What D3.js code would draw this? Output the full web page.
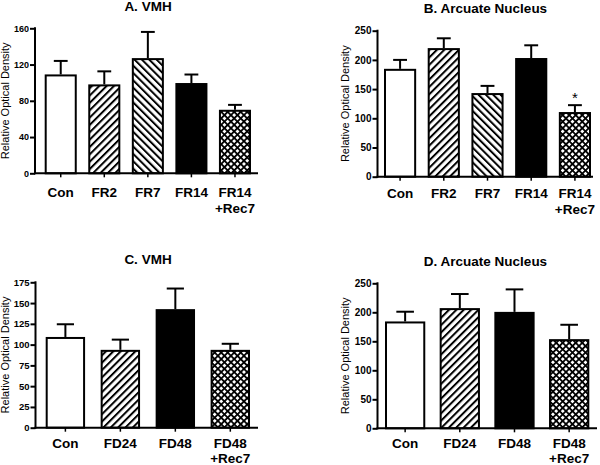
<!DOCTYPE html>
<html>
<head>
<meta charset="utf-8">
<script src="https://cdn.jsdelivr.net/npm/d3@7"></script>
<style>
  html, body { margin: 0; padding: 0; background: #fff; }
  svg { display: block; font-family: "Liberation Sans", Arial, sans-serif; }
</style>
</head>
<body>
<svg id="chart" width="600" height="465"></svg>
<script>
// ---- Data ----
const categoriesA = ["Con", "FR2", "FR7", "FR14", "FR14 +Rec7"];
const meansA = [108, 97, 126, 98.5, 69];
const errA = [124, 112.5, 156, 109, 75.5];
const ticksA = [0, 40, 80, 120, 160];

const categoriesB = ["Con", "FR2", "FR7", "FR14", "FR14 +Rec7"];
const meansB = [183, 218.5, 141.5, 201.5, 109];
const errB = [200, 237, 155.5, 225, 122.5];
const ticksB = [0, 50, 100, 150, 200, 250];
const markersB = ["", "", "", "", "*"];

const categoriesC = ["Con", "FD24", "FD48", "FD48 +Rec7"];
const meansC = [108, 92.5, 141.5, 92.5];
const errC = [124.5, 106, 167.5, 101];
const ticksC = [0, 25, 50, 75, 100, 125, 150, 175];

const categoriesD = ["Con", "FD24", "FD48", "FD48 +Rec7"];
const meansD = [182.5, 205.5, 199, 152];
const errD = [201, 231.5, 239.5, 178.5];
const ticksD = [0, 50, 100, 150, 200, 250];

const titles = ["A. VMH", "B. Arcuate Nucleus", "C. VMH", "D. Arcuate Nucleus"];
const yTitle = "Relative Optical Density";

// ---- Drawing ----
const svg = d3.select("#chart");
const defs = svg.append("defs");

function hatch(id, angle) {
  const p = defs.append("pattern").attr("id", id)
    .attr("patternUnits", "userSpaceOnUse")
    .attr("width", 5.2).attr("height", 5.2)
    .attr("patternTransform", `rotate(${angle})`);
  p.append("rect").attr("width", 5.2).attr("height", 5.2).attr("fill", "#fff");
  p.append("line").attr("x1", 1).attr("x2", 1).attr("y1", 0).attr("y2", 5.2)
    .attr("stroke", "#000").attr("stroke-width", 2);
}
hatch("fwd", 45);
hatch("back", -45);
(function () {
  const s = 4.6, w = 1.8;
  const p = defs.append("pattern").attr("id", "cross")
    .attr("patternUnits", "userSpaceOnUse")
    .attr("width", s).attr("height", s)
    .attr("patternTransform", "rotate(45)");
  p.append("rect").attr("width", s).attr("height", s).attr("fill", "#000");
  p.append("rect").attr("x", w).attr("y", w).attr("width", s - w).attr("height", s - w).attr("fill", "#fff");
})();

const fillMap = { white: "#fff", black: "#000", fwd: "url(#fwd)", back: "url(#back)", cross: "url(#cross)" };

function drawPanel(cfg) {
  const g = svg.append("g");
  const y = d3.scaleLinear().domain([0, cfg.ticks[cfg.ticks.length - 1]]).range([cfg.y0, cfg.y1]);
  const x = d3.scaleBand().domain(cfg.categories).range([cfg.bx0, cfg.bx1])
    .paddingInner(cfg.pad).paddingOuter(0);

  // bars
  g.selectAll("rect.bar").data(cfg.means).join("rect")
    .attr("class", "bar")
    .attr("x", (d, i) => x(cfg.categories[i]))
    .attr("y", d => y(d))
    .attr("width", x.bandwidth())
    .attr("height", d => y(0) - y(d))
    .attr("fill", (d, i) => fillMap[cfg.fills[i]])
    .attr("stroke", "#000").attr("stroke-width", 2);

  // error bars (upper only)
  const cap = x.bandwidth() * 0.46;
  cfg.err.forEach((e, i) => {
    const cx = x(cfg.categories[i]) + x.bandwidth() / 2;
    g.append("line").attr("x1", cx).attr("x2", cx)
      .attr("y1", y(cfg.means[i]) - 1).attr("y2", y(e))
      .attr("stroke", "#000").attr("stroke-width", 2);
    g.append("line").attr("x1", cx - cap / 2).attr("x2", cx + cap / 2)
      .attr("y1", y(e)).attr("y2", y(e))
      .attr("stroke", "#000").attr("stroke-width", 2);
    if (cfg.markers && cfg.markers[i]) {
      g.append("text").attr("x", cx).attr("y", y(e) - 2.5)
        .attr("text-anchor", "middle").attr("font-size", 15)
        .text(cfg.markers[i]);
    }
  });

  // y axis
  const yAxis = d3.axisLeft(y).tickValues(cfg.ticks).tickSize(5).tickPadding(1).tickSizeOuter(0);
  const ya = g.append("g").attr("transform", `translate(${cfg.ax},0)`).call(yAxis);
  ya.select(".domain").attr("stroke-width", 2).attr("d", `M0,${cfg.y0 + 1}V${cfg.y1 - 1}`);
  ya.selectAll(".tick line").attr("stroke-width", 2);
  ya.selectAll(".tick text").attr("font-size", cfg.tickFont).attr("font-weight", "bold")
    .attr("font-family", "'Liberation Sans', Arial, sans-serif").attr("fill", "#000");

  // x axis line
  g.append("line").attr("x1", cfg.ax - 1).attr("x2", cfg.axEnd)
    .attr("y1", cfg.y0).attr("y2", cfg.y0)
    .attr("stroke", "#000").attr("stroke-width", 2);
  // x ticks
  cfg.categories.forEach(c => {
    const cx = x(c) + x.bandwidth() / 2;
    g.append("line").attr("x1", cx).attr("x2", cx).attr("y1", cfg.y0).attr("y2", cfg.y0 + 4)
      .attr("stroke", "#000").attr("stroke-width", 1.5);
    const lines = c.split(" ");
    lines.forEach((ln, j) => {
      g.append("text").attr("x", cx).attr("y", cfg.y0 + cfg.labOff + j * cfg.lineH)
        .attr("text-anchor", "middle").attr("font-size", 13.5).attr("font-weight", "bold")
        .text(ln);
    });
  });

  // y title
  g.append("text")
    .attr("transform", `translate(${cfg.ytx},${(cfg.y0 + cfg.y1) / 2}) rotate(-90)`)
    .attr("text-anchor", "middle").attr("font-size", 11)
    .text(yTitle);

  // panel title
  g.append("text").attr("x", cfg.tx).attr("y", cfg.ty)
    .attr("text-anchor", "middle").attr("font-size", 13.5).attr("font-weight", "bold")
    .text(cfg.title);
}

drawPanel({
  title: titles[0], categories: categoriesA, means: meansA, err: errA, ticks: ticksA,
  fills: ["white", "fwd", "back", "black", "cross"],
  y0: 173.3, y1: 28.3, bx0: 45.7, bx1: 250, pad: 0.31, ax: 35, axEnd: 258,
  labOff: 24, lineH: 16, ytx: 9, tx: 148, ty: 11, tickFont: 9
});
drawPanel({
  title: titles[1], categories: categoriesB, means: meansB, err: errB, ticks: ticksB,
  fills: ["white", "fwd", "back", "black", "cross"], markers: markersB,
  y0: 176.7, y1: 30.7, bx0: 385, bx1: 590, pad: 0.31, ax: 377.5, axEnd: 593,
  labOff: 20.8, lineH: 16, ytx: 348.5, tx: 485.5, ty: 13.3, tickFont: 10
});
drawPanel({
  title: titles[2], categories: categoriesC, means: meansC, err: errC, ticks: ticksC,
  fills: ["white", "fwd", "black", "cross"],
  y0: 427.7, y1: 282.3, bx0: 46.7, bx1: 249, pad: 0.32, ax: 35.5, axEnd: 258,
  labOff: 20.3, lineH: 14.5, ytx: 9, tx: 148, ty: 264.3, tickFont: 9.5
});
drawPanel({
  title: titles[3], categories: categoriesD, means: meansD, err: errD, ticks: ticksD,
  fills: ["white", "fwd", "black", "cross"],
  y0: 428.3, y1: 283.3, bx0: 386, bx1: 588.3, pad: 0.3, ax: 377.5, axEnd: 597,
  labOff: 20, lineH: 14.2, ytx: 348.5, tx: 485.5, ty: 265.7, tickFont: 10
});
</script>
</body>
</html>
